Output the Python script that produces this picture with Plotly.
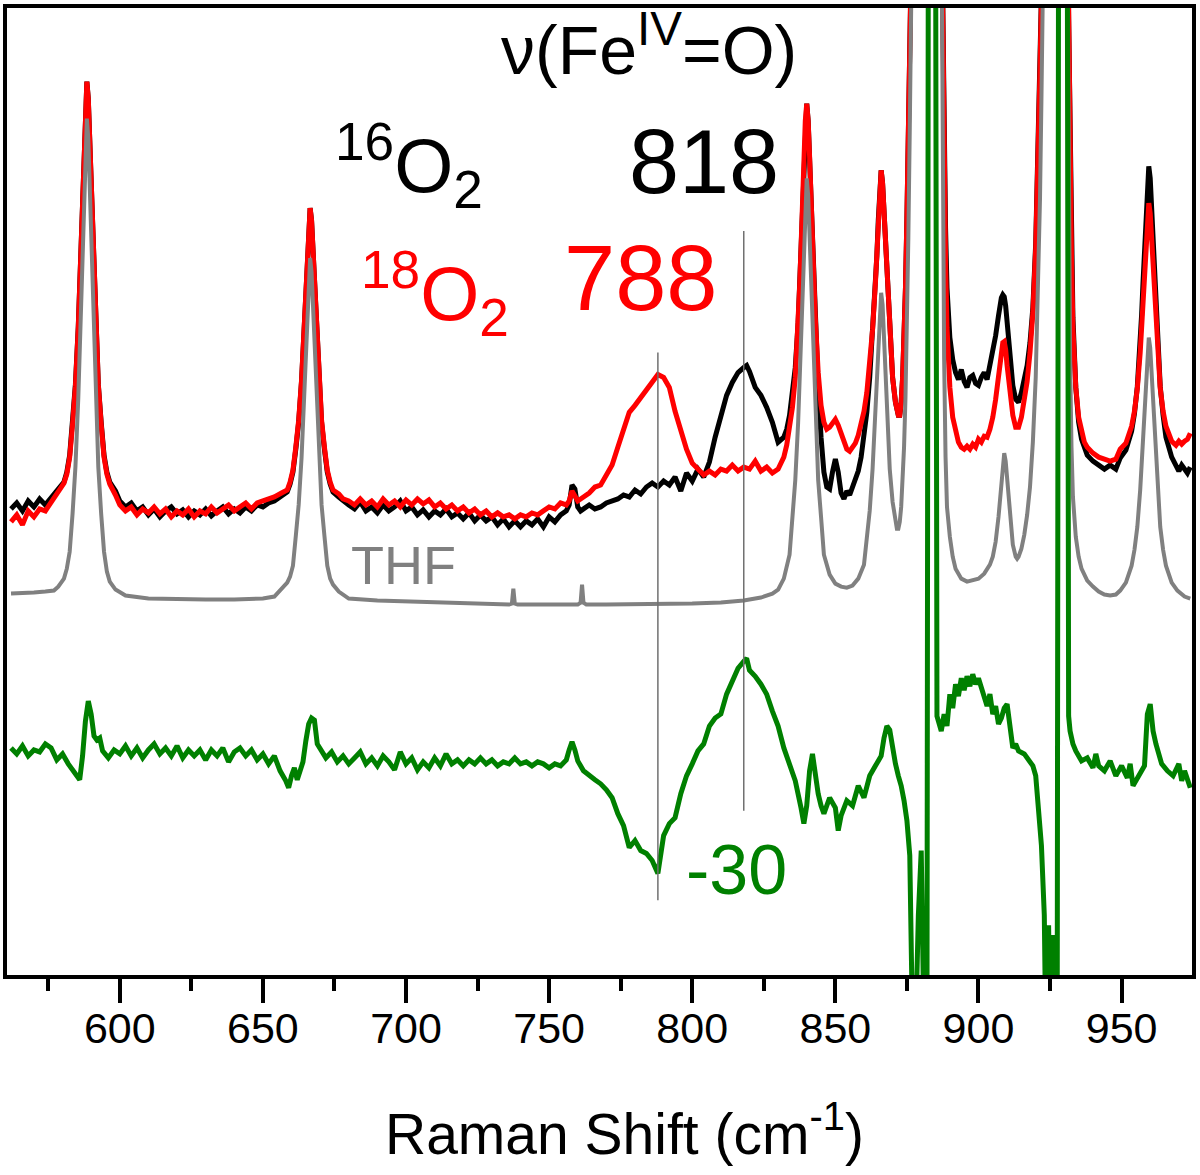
import plotly.graph_objects as go

# ---------------- data: (Raman shift cm-1, intensity a.u.) ----------------
o16 = [(562,468),(564,474),(566,466),(568,476),(570,470),(572,478),(574,472),(576,480),(578.5,488),(580.5,495),(581.5,505),(582.5,522),
(583.5,555),(584.5,593),(585.5,651),(586,693),(586.5,739),(587,789),(587.5,839),(588,880),(588.5,897),(589,880),(589.5,839),(590,789),
(590.5,739),(591,693),(591.5,651),(592.5,593),(593.5,555),(594.5,522),(595.5,505),(596.5,495),(598.5,486),
(600,476),(602,470),(604,474),(606,466),(608,470),(610,462),(612,468),(614,460),(616,466),(618,470),(620,463),(622,467),(624,460),
(626,466),(628,462),(630,468),(632,461),(634,466),(636,470),(638,463),(640,468),(642,464),(644,470),(646,466),(648,472),(650,470),
(652,474),(654,476),(656.5,481),(658.5,485),(659.5,493),(660.5,505),(661.5,528),(662.5,555),(663.5,596),(664,625),(664.5,658),
(665,693),(665.5,729),(666,758),(666.5,770),(667,758),(667.5,729),(668,693),(668.5,658),(669,625),(669.5,596),(670.5,555),(671.5,528),
(672.5,505),(673.5,493),(674.5,485),(676.5,480),
(678,476),(680,472),(682,468),(684,475),(686,466),(688,470),(690,464),(692,472),(694,466),(696,470),(698,476),(700,466),(702,470),
(704,462),(706,467),(708,460),(710,466),(712,462),(714,468),(716,460),(718,464),(720,458),(722,464),(724,456),(726,462),(728,456),
(730,460),(732,452),(734,458),(736,450),(738,456),(740,450),(742,456),(744,452),(746,458),(748,450),(750,460),(752,455),(754,462),
(756,466),(757,472),(758,492),(759,488),(760,470),(761,466),(762,468),(764,472),(766,468),(768,470),(770,474),(772,476),(774,478),
(776,482),(778,480),(780,487),(782,483),(784,490),(786,494),(788,490),(790,496),(792,492),(794,500),(796,486),(798,504),(800,496),
(802,508),(804,500),(806,515),(808,540),(810,560),(812,582),(814,595),(816,605),(818,610),(819,612),(820,606),(822,590),(824,582),
(826,570),(828,555),(830,535),(832,540),(833,548),(834,562),(835,582),(836,610),(837,655),(837.5,690),(838,730),(838.5,778),(839,822),
(839.5,858),(840,875),(840.5,858),(841,822),(841.5,778),(842,730),(842.5,690),(843,650),(844,590),(845,540),(846,505),(847,490),
(848,488),(849,505),(850,518),(851,505),(852,484),(853,478),(854,486),(855,482),(856,490),(857,496),(858,506),(859,520),(860,540),
(861,565),(862,600),(863,642),(864,692),(864.5,722),(865,758),(865.5,790),(866,808),(866.5,795),(867,765),(867.5,730),(868,695),
(869,640),(870,600),(871,575),(872,562),(872.5,562),(873,575),(873.5,600),(874,640),(874.5,690),(875,760),(875.5,840),(876,920),
(876.5,1000),(877,1100),(887,1100),(887.5,960),(888,840),(888.5,750),(889,690),(890,640),(891,618),(892,605),(893,598),(894,608),
(895,596),(896,590),(897,600),(898,602),(899,594),(900,592),(901,600),(902,605),(903,598),(904,612),(905,625),(906,642),(907,662),
(907.5,672),(908,680),(908.5,683),(909,681),(909.5,672),(910,655),(911,620),(912,592),(913,578),(914,575),(915,585),(916,598),
(917,612),(918,635),(919,670),(920,735),(920.5,785),(921,845),(921.5,915),(922,985),(922.5,1100),(931,1100),(931.5,960),(932,830),
(932.5,730),(933,660),(934,590),(935,555),(936,538),(937,528),(938,522),(940,516),(942,512),(944,508),(946,512),(948,508),(949.5,519),
(951.5,527),(953.5,546),(954.5,564),(955.5,591),(956.5,633),(957,663),(957.5,696),(958,732),(958.5,768),(959,800),(959.5,812),
(960,800),(960.5,768),(961,732),(961.5,696),(962,663),(962.5,633),(963.5,591),(964.5,562),(965.5,540),(967.5,520),(969,512),
(970,506),(971,512),(972,508),(973,504),(974,510)]

o18 = [(562,455),(564,462),(566,452),(568,466),(570,460),(572,468),(574,466),(576,474),(578.5,486),(580.5,494),(581.5,503),(582.5,520),
(583.5,553),(584.5,591),(585.5,650),(586,692),(586.5,739),(587,789),(587.5,839),(588,880),(588.5,897),(589,880),(589.5,839),(590,789),
(590.5,739),(591,693),(591.5,651),(592.5,593),(593.5,553),(594.5,520),(595.5,503),(596.5,493),(598.5,482),
(600,472),(602,466),(604,470),(606,462),(608,468),(610,464),(612,470),(614,463),(616,468),(618,460),(620,466),(622,462),(624,468),
(626,460),(628,466),(630,463),(632,470),(634,464),(636,468),(638,472),(640,466),(642,470),(644,474),(646,468),(648,474),(650,476),
(652,478),(654,480),(656.5,484),(658.5,487),(659.5,495),(660.5,507),(661.5,530),(662.5,557),(663.5,597),(664,626),(664.5,658),
(665,693),(665.5,729),(666,758),(666.5,770),(667,758),(667.5,729),(668,693),(668.5,658),(669,626),(669.5,597),(670.5,557),(671.5,530),
(672.5,507),(673.5,495),(674.5,487),(676.5,483),
(678,478),(680,476),(682,472),(684,478),(686,472),(688,476),(690,470),(692,478),(694,472),(696,476),(698,470),(700,477),(702,472),
(704,478),(706,473),(708,477),(710,470),(712,474),(714,468),(716,472),(718,466),(720,470),(722,464),(724,468),(726,462),(728,466),
(730,460),(732,464),(734,460),(736,462),(738,458),(740,462),(742,460),(744,464),(746,462),(748,466),(750,470),(752,468),(754,474),
(756,472),(757,476),(758,486),(759,480),(760,476),(761,478),(762,480),(764,484),(766,490),(768,492),(770,502),(772,512),(774,530),
(776,548),(778,565),(780,572),(782,580),(784,586),(786,594),(788,603),(790,600),(792,590),(794,566),(796,545),(798,528),(800,514),
(802,508),(804,502),(806,506),(808,502),(810,508),(812,506),(814,512),(816,506),(818,510),(820,508),(822,516),(824,506),(826,510),
(828,504),(830,508),(832,520),(833,532),(834,548),(835,570),(836,600),(837,650),(837.5,690),(838,730),(838.5,778),(839,822),
(839.5,858),(840,875),(840.5,858),(841,822),(841.5,778),(842,735),(842.5,695),(843,660),(844,605),(845,572),(846,555),(847,548),
(848,550),(849,555),(850,558),(851,552),(852,545),(853,535),(854,528),(855,526),(856,530),(857,534),(858,542),(859,552),(860,566),
(861,585),(862,612),(863,648),(864,695),(864.5,725),(865,760),(865.5,790),(866,808),(866.5,795),(867,765),(867.5,730),(868,695),
(869,640),(870,600),(871,575),(872,562),(872.5,562),(873,575),(873.5,600),(874,640),(874.5,690),(875,760),(875.5,840),(876,920),
(876.5,1000),(877,1100),(887,1100),(887.5,950),(888,820),(888.5,720),(889,650),(890,590),(891,560),(892,545),(893,535),(894,530),
(895,528),(896,531),(897,528),(898,533),(899,530),(900,538),(901,535),(902,541),(903,540),(904,548),(905,560),(906,578),(907,600),
(907.5,615),(908,628),(908.5,635),(909,636),(909.5,628),(910,612),(911,585),(912,562),(913,550),(914,550),(915,560),(916,576),
(917,596),(918,625),(919,665),(920,730),(920.5,780),(921,840),(921.5,910),(922,980),(922.5,1100),(931,1100),(931.5,950),(932,820),
(932.5,720),(933,650),(934,590),(935,560),(936,545),(937,535),(938,530),(940,524),(942,520),(944,518),(946,516),(948,518),(949.5,528),
(951.5,534),(953.5,551),(954.5,566),(955.5,589),(956.5,625),(957,650),(957.5,678),(958,709),(958.5,739),(959,765),(959.5,775),
(960,765),(960.5,739),(961,709),(961.5,678),(962,650),(962.5,625),(963.5,589),(964.5,566),(965.5,551),(967.5,536),(969,532),
(970,536),(971,533),(972,536),(973,538),(974,544)]

thf = [(562,383),(566,383),(570,384),(574,385),(577,386),(578.5,390),(580.5,398),(581.5,408),(582.5,425),(583.5,463),(584.5,510),
(585.5,579),(586,626),(586.5,679),(587,736),(587.5,793),(588,840),(588.5,860),(589,840),(589.5,793),(590,736),(590.5,679),(591,626),
(591.5,579),(592.5,510),(593.5,463),(594.5,425),(595.5,405),(596.5,395),(598.5,387),(602,381),(610,378),(620,377),(630,377),
(640,377),(650,378),(654,380),(656.5,387),(658.5,394),(659.5,400),(660.5,411),(661.5,441),(662.5,472),(663.5,519),(664,553),
(664.5,591),(665,632),(665.5,672),(666,706),(666.5,720),(667,706),(667.5,672),(668,632),(668.5,591),(669,553),(669.5,519),
(670.5,472),(671.5,441),(672.5,411),(673.5,398),(674.5,392),(676.5,385),(680,378),(690,376),(700,375),(710,374),(720,374),
(730,373),(736,372),(737,373),(737.5,388),(738,373),(739,372),(750,372),(760,372),(761,374),(761.5,392),(762,374),(763,372),
(770,372),(780,372),(790,372),(800,373),(810,374),(818,376),(824,379),(828,383),(830,387),(832,398),(834,422),(835,460),(836,497),
(837,555),(837.5,597),(838,642),(838.5,692),(839,742),(839.5,783),(840,800),(840.5,783),(841,742),(841.5,692),(842,642),(842.5,597),
(843,555),(844,497),(845,460),(846,422),(848,402),(850,393),(852,390),(854,389),(856,391),(858,398),(860,412),(861,439),(862,466),
(863,508),(863.5,538),(864,571),(864.5,607),(865,643),(865.5,673),(866,685),(866.5,673),(867,643),(867.5,607),(868,571),(868.5,538),
(869,508),(870,475),(871,455),(871.5,448),(872,448),(872.5,455),(873,470),(873.5,495),(874,530),(874.5,580),(875,650),(875.5,740),
(876,850),(876.5,1000),(877,1100),(887,1100),(887.5,800),(888,620),(888.5,520),(889,470),(890,440),(891,420),(892,408),(894,398),
(896,395),(898,396),(900,398),(902,403),(904,412),(905,420),(906,435),(907,460),(907.5,478),(908,500),(908.5,516),(909,524),
(909.5,516),(910,500),(910.5,478),(911,458),(912,432),(913,420),(913.5,418),(914,420),(915,428),(916,442),(917,462),(918,490),
(919,535),(920,600),(921,700),(921.5,780),(922,880),(922.5,1000),(923,1100),(931,1100),(931.5,800),(932,620),(932.5,530),(933,480),
(934,440),(935,420),(936,408),(938,396),(940,390),(942,385),(944,382),(946,381),(948,382),(949.5,386),(951.5,394),(953.5,411),
(954.5,427),(955.5,450),(956.5,487),(957,513),(957.5,541),(958,572),(958.5,604),(959,630),(959.5,640),(960,630),(960.5,604),
(961,572),(961.5,541),(962,513),(962.5,487),(963.5,450),(964.5,427),(965.5,411),(967.5,394),(969.5,386),(972,380),(974,378)]

diff = [(562,228),(564,222),(566,230),(568,220),(570,226),(572,224),(574,232),(576,228),(578,216),(580,222),(582,212),(584,205),
(585,200),(586,196),(587,220),(588,255),(589,275),(590,262),(591,240),(592,236),(593,238),(594,225),(596,218),(598,226),(600,222),
(602,230),(604,220),(606,228),(608,218),(610,226),(612,232),(614,222),(616,228),(618,220),(620,230),(622,218),(624,226),(626,220),
(628,226),(630,216),(632,226),(634,220),(636,228),(638,214),(640,224),(642,228),(644,220),(646,226),(648,216),(650,222),(652,212),
(654,220),(656,205),(658,195),(659,188),(660,200),(661,208),(662,196),(663,204),(664,214),(665,235),(666,252),(667,258),(668,256),
(669,232),(670,228),(671,222),(672,218),(674,224),(676,214),(678,220),(680,212),(682,218),(684,224),(686,212),(688,218),(690,210),
(692,220),(694,214),(696,206),(698,224),(700,212),(702,218),(704,206),(706,214),(708,208),(710,218),(712,210),(714,222),(716,212),
(718,216),(720,210),(722,216),(724,212),(726,218),(728,212),(730,216),(732,210),(734,214),(736,212),(738,218),(740,212),(742,214),
(744,210),(746,214),(748,212),(750,208),(752,212),(754,210),(756,216),(757,226),(758,234),(759,226),(760,215),(762,205),(764,200),
(766,196),(768,192),(770,186),(772,178),(774,162),(776,150),(778,128),(780,135),(782,125),(784,122),(786,115),(788,102),(789,118),
(790,140),(792,152),(794,158),(796,182),(798,200),(800,212),(802,225),(804,232),(806,250),(808,258),(810,262),(812,282),(814,296),
(816,308),(818,315),(819,318),(820,306),(822,300),(824,292),(826,282),(828,265),(830,250),(832,228),(834,212),(836,195),(838,168),
(839,152),(840,170),(841,205),(842,222),(843,200),(844,182),(845,170),(846,162),(848,178),(850,168),(851,145),(852,160),(854,175),
(856,170),(857,180),(858,190),(860,178),(862,200),(864,210),(866,220),(867,238),(868,250),(869,246),(870,225),(871,212),(872,200),
(873,190),(874,175),(875,155),(876,120),(877,-60),(878,-60),(879,60),(880,125),(880.5,60),(881,-60),(882,-60),(882.5,1100),
(885,1100),(885.5,260),(886,255),(887,245),(888,262),(889,250),(890,282),(891,268),(892,292),(893,280),(894,298),(895,286),
(896,300),(897,290),(898,302),(899,292),(900,298),(902,280),(903,270),(904,282),(905,262),(906,270),(907,252),(908,258),(909,268),
(910,272),(911,250),(912,228),(913,232),(914,225),(916,222),(918,215),(919,210),(920,200),(921,170),(922,130),(923,60),(923.5,-60),
(924.5,50),(925,-60),(926,40),(926.5,-60),(927.5,-60),(928,1100),(931,1100),(931.5,260),(932,245),(933,232),(934,225),(936,215),
(938,218),(940,208),(941,222),(942,210),(944,205),(946,215),(948,200),(950,210),(952,198),(953,212),(954,190),(956,200),(958,210),
(959,262),(960,272),(961,245),(962,232),(964,212),(966,205),(968,200),(970,212),(971,195),(972,205),(974,188)]

marker_x = [788, 818]
marker_lo = [75, 165]
marker_hi = [625, 747]

tick_vals = [600, 650, 700, 750, 800, 850, 900, 950]
tick_text = ["600", "650", "700", "750", "800", "850", "900", "950"]

FONT = "Liberation Sans, Arial, sans-serif"


def xs(s):
    return [p[0] for p in s]


def ys(s):
    return [p[1] for p in s]


fig = go.Figure()
fig.add_trace(go.Scatter(x=xs(o16), y=ys(o16), mode="lines", line=dict(color="#000000", width=5), name="16O2"))
fig.add_trace(go.Scatter(x=xs(o18), y=ys(o18), mode="lines", line=dict(color="#ff0000", width=5), name="18O2"))
fig.add_trace(go.Scatter(x=xs(thf), y=ys(thf), mode="lines", line=dict(color="#808080", width=4), name="THF"))
fig.add_trace(go.Scatter(x=xs(diff), y=ys(diff), mode="lines", line=dict(color="#008000", width=5), name="diff"))

for mx, lo, hi in zip(marker_x, marker_lo, marker_hi):
    fig.add_shape(type="line", x0=mx, x1=mx, y0=lo, y1=hi, xref="x", yref="y",
                  line=dict(color="#707070", width=1.5), layer="above")

ann = [
    ("ν(Fe<sup>IV</sup>=O)", 785, 934, 68, "#000000"),
    ("<sup>16</sup>O<sub>2</sub>", 701, 813, 76, "#000000"),
    ("818", 804, 816, 90, "#000000"),
    ("<sup>18</sup>O<sub>2</sub>", 710, 684, 76, "#ff0000"),
    ("788", 782, 700, 92, "#ff0000"),
    ("THF", 699, 412, 54, "#808080"),
    ("-30", 815.5, 105, 70, "#008000"),
]
for txt, ax_, ay_, fs, col in ann:
    fig.add_annotation(x=ax_, y=ay_, text=txt, showarrow=False, xanchor="center", yanchor="middle",
                       font=dict(family=FONT, size=fs, color=col))

# axis title, placed slightly right of centre as in the reference
fig.add_annotation(x=0.5215, y=-0.16, xref="paper", yref="paper", text="Raman Shift (cm<sup>-1</sup>)",
                   showarrow=False, xanchor="center", yanchor="middle",
                   font=dict(family=FONT, size=57, color="black"))

fig.update_layout(
    width=1200, height=1175,
    margin=dict(l=7, r=8, t=4, b=200),
    paper_bgcolor="white", plot_bgcolor="white",
    showlegend=False,
    font=dict(family=FONT, color="black"),
)
fig.update_xaxes(
    range=[560.6, 974.6],
    tickvals=tick_vals, ticktext=tick_text,
    ticks="outside", ticklen=24, tickwidth=4, tickcolor="black",
    minor=dict(dtick=25, tick0=0, ticks="outside", ticklen=12, tickwidth=4, tickcolor="black"),
    showline=True, linewidth=4, linecolor="black", mirror=True,
    showgrid=False, zeroline=False,
    ticklabelstandoff=-12,
    tickfont=dict(family=FONT, size=43, color="black"),
)
fig.update_yaxes(
    range=[0, 971],
    showticklabels=False, ticks="",
    showline=True, linewidth=4, linecolor="black", mirror=True,
    showgrid=False, zeroline=False,
)

fig.write_html("out.html", config={"displayModeBar": False},
               post_script="document.body.style.margin='0px';document.body.style.padding='0px';")
